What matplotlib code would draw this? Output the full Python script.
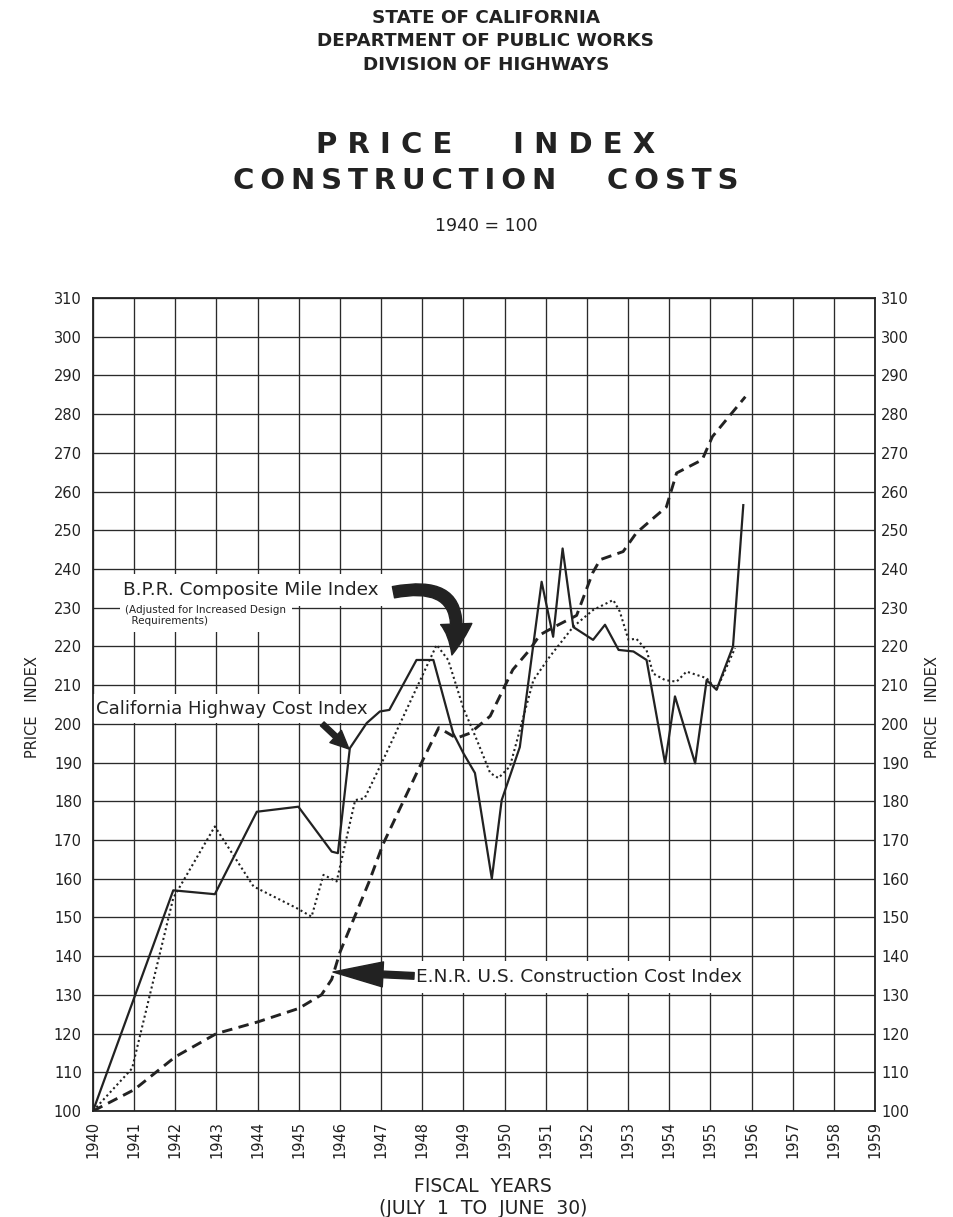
import matplotlib
matplotlib.use("Agg")
import matplotlib.pyplot as plt

# ---------------- data ----------------
years_ticks = list(range(1940, 1960))
y_ticks = list(range(100, 320, 10))

cal_x = [1940.0, 1941.95, 1942.96, 1943.98, 1944.99, 1945.8, 1945.95, 1946.24, 1946.65, 1946.97,
         1947.2, 1947.86, 1948.27, 1948.75, 1949.0, 1949.28, 1949.69, 1949.93, 1950.37, 1950.9,
         1951.18, 1951.41, 1951.67, 1952.15, 1952.44, 1952.77, 1953.13, 1953.45, 1953.9, 1954.14,
         1954.63, 1954.91, 1955.15, 1955.55, 1955.8]
cal_y = [100, 157, 156, 177.3, 178.6, 167, 166.6, 193.7, 200.2, 203.2,
         203.6, 216.5, 216.5, 197.6, 192.4, 187.3, 160, 180.3, 194, 236.7,
         222.5, 245.3, 225, 221.7, 225.6, 219.1, 218.7, 216.5, 189.8, 207.1,
         189.8, 211.3, 208.8, 220, 256.5]

bpr_x = [1940.0, 1940.95, 1941.95, 1942.96, 1943.9, 1944.95, 1945.31, 1945.6, 1945.92, 1946.37,
         1946.6, 1947.05, 1948.03, 1948.35, 1948.63, 1949.0, 1949.32, 1949.65, 1949.85, 1950.13,
         1950.7, 1951.1, 1951.67, 1952.15, 1952.64, 1952.8, 1953.01, 1953.2, 1953.45, 1953.61,
         1953.9, 1954.18, 1954.42, 1954.91, 1955.15, 1955.6]
bpr_y = [100, 111, 155, 173.5, 158, 152.4, 150.2, 161, 159.3, 180.3,
         180.8, 190.7, 213.1, 220.4, 216.5, 204, 196, 187.3, 186, 189,
         211.3, 217.4, 225.1, 229.4, 232, 229, 221.7, 222, 219, 213,
         211.3, 210.9, 213.5, 211.8, 208.8, 219.6]

enr_x = [1940.0, 1941.0, 1942.0, 1943.0, 1944.0, 1945.0, 1945.55, 1945.8, 1946.0, 1946.7,
         1947.05, 1948.03, 1948.4, 1948.83, 1949.16, 1949.65, 1950.2, 1950.6, 1950.86, 1951.2,
         1951.75, 1952.14, 1952.32, 1952.88, 1953.2, 1953.6, 1953.93, 1954.18, 1954.8, 1955.05,
         1955.85]
enr_y = [100, 105.5, 114, 120, 123, 126.5, 130, 134, 141, 159,
         169, 191, 199, 196.3, 197.6, 202, 214, 219, 223, 225,
         228, 239, 242.4, 244.5, 249.3, 253, 256, 264.8, 268.2, 274.2,
         284.5]

header_lines = ["STATE OF CALIFORNIA", "DEPARTMENT OF PUBLIC WORKS", "DIVISION OF HIGHWAYS"]
TS = "\u2009"
title_line1 = "P R I C E      I N D E X"
title_line2 = TS.join("CONSTRUCTION") + "     " + TS.join("COSTS")
subtitle = "1940 = 100"
xlabel_lines = ["FISCAL  YEARS", "(JULY  1  TO  JUNE  30)"]
ylabel = "PRICE   INDEX"

# ---------------- figure ----------------
plt.rcParams['font.family'] = ['DejaVu Sans']
W, H = 954, 1217
fig = plt.figure(figsize=(W / 100, H / 100), dpi=100)
ax = fig.add_axes([93 / W, 1 - 1111 / H, (875 - 93) / W, (1111 - 298) / H])

ink = "#222222"
ax.plot(cal_x, cal_y, color=ink, lw=1.6, ls="-", zorder=3)
ax.plot(bpr_x, bpr_y, color=ink, lw=1.5, ls=(0, (1, 1.4)), zorder=3)
ax.plot(enr_x, enr_y, color=ink, lw=2.1, ls=(0, (3.6, 2.2)), zorder=3)

ax.set_xlim(1940, 1959)
ax.set_ylim(100, 310)
ax.set_xticks(years_ticks)
ax.set_xticklabels([str(y) for y in years_ticks], rotation=90, fontsize=10.5)
ax.set_yticks(y_ticks)
ax.set_yticklabels([str(v) for v in y_ticks], fontsize=10.5)
ax.tick_params(axis='both', length=0, colors=ink)
ax.tick_params(axis='x', pad=7)
ax.tick_params(axis='y', pad=8)
ax.grid(True, color="#2a2a2a", lw=0.95, zorder=1)
for s in ax.spines.values():
    s.set_color(ink)
    s.set_linewidth(1.3)

ax2 = ax.twinx()
ax2.set_ylim(100, 310)
ax2.set_yticks(y_ticks)
ax2.set_yticklabels([str(v) for v in y_ticks], fontsize=10.5)
ax2.tick_params(axis='y', length=0, pad=4.5, colors=ink)
for s in ax2.spines.values():
    s.set_visible(False)

fig.text(33 / W, 1 - 707 / H, ylabel, rotation=90, fontsize=10.5, color=ink,
         ha="center", va="center")
fig.text(933 / W, 1 - 707 / H, ylabel, rotation=90, fontsize=10.5, color=ink,
         ha="center", va="center")
fig.text(483 / W, 1 - 1186 / H, xlabel_lines[0], fontsize=13.5, color=ink,
         ha="center", va="center")
fig.text(483 / W, 1 - 1208 / H, xlabel_lines[1], fontsize=13.5, color=ink,
         ha="center", va="center")

# annotations (white boxes hide the grid but sit below the data lines)
lab_z = 2.5
ax.text(1940.73, 234.6, "B.P.R. Composite Mile Index", fontsize=13.3, color=ink,
        ha="left", va="center", zorder=lab_z,
        bbox=dict(facecolor="white", edgecolor="none", pad=5))
ax.text(1940.78, 227.9, "(Adjusted for Increased Design\n  Requirements)", fontsize=7.5,
        color=ink, ha="left", va="center", zorder=lab_z, linespacing=1.15,
        bbox=dict(facecolor="white", edgecolor="none", pad=4))
ax.text(1940.07, 203.9, "California Highway Cost Index", fontsize=13.1, color=ink,
        ha="left", va="center", zorder=lab_z,
        bbox=dict(facecolor="white", edgecolor="none", pad=4))
ax.text(1947.85, 134.6, "E.N.R. U.S. Construction Cost Index", fontsize=13.3, color=ink,
        ha="left", va="center", zorder=lab_z,
        bbox=dict(facecolor="white", edgecolor="none", pad=5))

ax.annotate("", xy=(1948.72, 217.8), xytext=(1947.3, 234.0),
            arrowprops=dict(arrowstyle="simple,head_width=1.5,head_length=1.5,tail_width=0.55",
                            connectionstyle="arc3,rad=-0.8", color=ink, mutation_scale=15,
                            shrinkA=0, shrinkB=0),
            zorder=5)
ax.annotate("", xy=(1946.22, 193.5), xytext=(1945.57, 200.0),
            arrowprops=dict(arrowstyle="simple,head_width=1.1,head_length=1.2,tail_width=0.35",
                            color=ink, mutation_scale=11, shrinkA=0, shrinkB=0), zorder=5)
ax.annotate("", xy=(1945.83, 135.9), xytext=(1947.8, 134.9),
            arrowprops=dict(arrowstyle="simple,head_width=1.5,head_length=3.0,tail_width=0.4",
                            color=ink, mutation_scale=12, shrinkA=0, shrinkB=0), zorder=5)

# header text
cx = 486 / W
for i, t in enumerate(header_lines):
    fig.text(cx, 1 - (18 + 23.5 * i) / H, t, fontsize=13.2, fontweight="bold",
             color=ink, ha="center", va="center")
fig.text(cx, 1 - 145 / H, title_line1, fontsize=21, fontweight="bold",
         color=ink, ha="center", va="center")
fig.text(cx, 1 - 181 / H, title_line2, fontsize=21, fontweight="bold",
         color=ink, ha="center", va="center")
fig.text(cx, 1 - 226 / H, subtitle, fontsize=12.5, color=ink, ha="center", va="center")

fig.savefig("out.png", dpi=100, facecolor="white")
